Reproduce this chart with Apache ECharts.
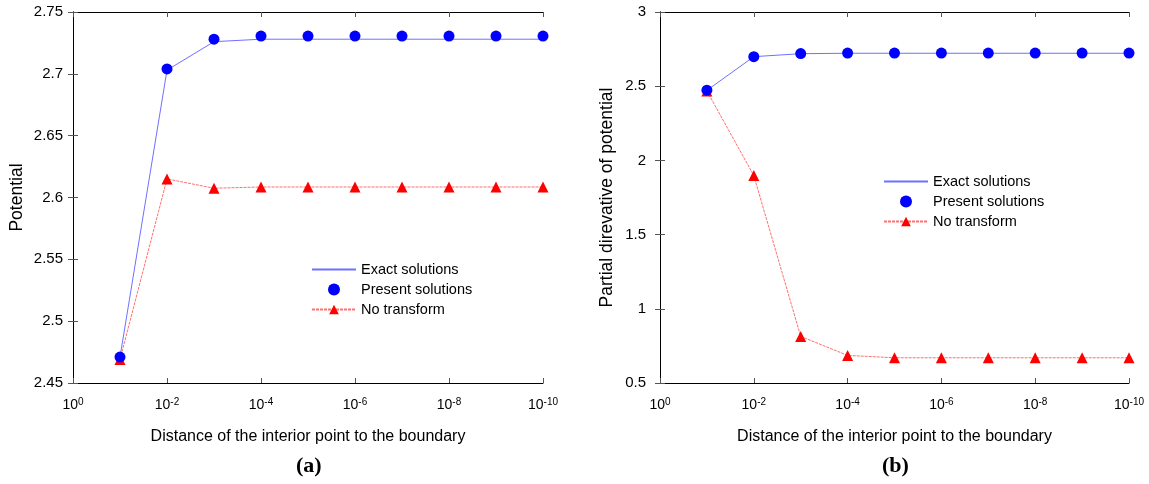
<!DOCTYPE html>
<html>
<head>
<meta charset="utf-8">
<script src="https://cdn.jsdelivr.net/npm/echarts@6/dist/echarts.min.js"></script>
<style>
  html, body { margin: 0; padding: 0; background: #fff; }
  #chart { width: 1149px; height: 484px; }
</style>
</head>
<body>
<div id="chart"></div>
<script>
// exponent n of the distance 10^-n
const exponents = [1, 2, 3, 4, 5, 6, 7, 8, 9, 10]

// (a) potential
const potExact = [2.471, 2.703, 2.726, 2.728, 2.728, 2.728, 2.728, 2.728, 2.728, 2.728]
const potPresent = [2.471, 2.704, 2.728, 2.7305, 2.7305, 2.7305, 2.7305, 2.7305, 2.7305, 2.7305]
const potNoTransform = [2.469, 2.615, 2.6075, 2.6085, 2.6085, 2.6085, 2.6085, 2.6085, 2.6085, 2.6085]

// (b) partial derivative of potential
const derExact = [2.472, 2.699, 2.719, 2.722, 2.722, 2.722, 2.722, 2.722, 2.722, 2.722]
const derPresent = [2.473, 2.699, 2.72, 2.723, 2.723, 2.723, 2.723, 2.723, 2.723, 2.723]
const derNoTransform = [2.468, 1.898, 0.814, 0.686, 0.67, 0.67, 0.67, 0.67, 0.67, 0.67]

const names = ['Exact solutions', 'Present solutions', 'No transform']
const FONT = 'Liberation Sans, Arial, sans-serif'

function pairs(ys) {
  return exponents.map((e, i) => [e, ys[i]])
}

function xAxes(gridIndex) {
  const base = {
    gridIndex: gridIndex,
    type: 'value',
    min: 0,
    max: 10,
    interval: 2,
    splitLine: { show: false },
    axisLine: { lineStyle: { color: '#000', width: 1 } },
    axisTick: { inside: true, length: 5, lineStyle: { color: '#555' } }
  }
  return [
    Object.assign({}, base, {
      position: 'bottom',
      name: 'Distance of the interior point to the boundary',
      nameLocation: 'middle',
      nameGap: 46,
      nameTextStyle: { fontFamily: FONT, fontSize: 16, color: '#000' },
      axisLabel: {
        margin: 14,
        color: '#000',
        formatter: function (v) {
          return '{b|10}{s|' + (v === 0 ? '0' : '-' + v) + '}'
        },
        rich: {
          b: { fontFamily: FONT, fontSize: 14, color: '#000' },
          s: { fontFamily: FONT, fontSize: 10, color: '#000', verticalAlign: 'top', padding: [0, 0, 6, 0] }
        }
      }
    }),
    Object.assign({}, base, { position: 'top', axisLabel: { show: false } })
  ]
}

function yAxes(gridIndex, min, max, interval, name, margin, gap) {
  const base = {
    gridIndex: gridIndex,
    type: 'value',
    min: min,
    max: max,
    interval: interval,
    splitLine: { show: false },
    axisLine: { show: true, lineStyle: { color: '#000', width: 1 } },
    axisTick: { show: true, inside: true, length: 5, lineStyle: { color: '#555' } }
  }
  return [
    Object.assign({}, base, {
      position: 'left',
      name: name,
      nameLocation: 'middle',
      nameGap: gap,
      nameTextStyle: { fontFamily: FONT, fontSize: 17.5, color: '#000' },
      axisLabel: { margin: margin, fontFamily: FONT, fontSize: 15, color: '#000' }
    }),
    Object.assign({}, base, { position: 'right', axisLabel: { show: false } })
  ]
}

function panelSeries(idx, exact, present, noTrans) {
  return [
    {
      name: names[0],
      type: 'line',
      xAxisIndex: idx * 2,
      yAxisIndex: idx * 2,
      data: pairs(exact),
      symbol: 'none',
      lineStyle: { color: '#7070ff', width: 1 },
      itemStyle: { color: '#7070ff' },
      z: 2
    },
    {
      name: names[1],
      type: 'scatter',
      xAxisIndex: idx * 2,
      yAxisIndex: idx * 2,
      data: pairs(present),
      symbol: 'circle',
      symbolSize: 11,
      itemStyle: { color: '#0000ff', opacity: 1 },
      z: 4
    },
    {
      name: names[2],
      type: 'line',
      xAxisIndex: idx * 2,
      yAxisIndex: idx * 2,
      data: pairs(noTrans),
      symbol: 'triangle',
      symbolSize: 11,
      lineStyle: { color: '#ff7070', width: 1, type: [3, 1] },
      itemStyle: { color: '#ff0000' },
      z: 3
    }
  ]
}

function legend(left, top) {
  return {
    orient: 'vertical',
    left: left,
    top: top,
    data: [
      { name: names[0], itemStyle: { opacity: 0 } },
      names[1],
      names[2]
    ],
    itemWidth: 44,
    itemHeight: 12,
    itemGap: 5,
    selectedMode: false,
    textStyle: { fontFamily: FONT, fontSize: 14.5, color: '#000' }
  }
}

const chart = echarts.init(document.getElementById('chart'), null, { renderer: 'canvas' })
chart.setOption({
  animation: false,
  backgroundColor: '#fff',
  grid: [
    { left: 73, right: 606, top: 12, bottom: 101, show: false },
    { left: 660, right: 20, top: 12, bottom: 101, show: false }
  ],
  xAxis: xAxes(0).concat(xAxes(1)),
  yAxis: yAxes(0, 2.45, 2.75, 0.05, 'Potential', 10, 47)
    .concat(yAxes(1, 0.5, 3, 0.5, 'Partial direvative of potential', 14, 44)),
  legend: [legend(306, 257), legend(878, 169)],
  series: panelSeries(0, potExact, potPresent, potNoTransform)
    .concat(panelSeries(1, derExact, derPresent, derNoTransform)),
  graphic: [
    {
      type: 'text',
      left: 296,
      top: 455,
      style: { text: '(a)', font: 'bold 22px "Liberation Serif", "Times New Roman", serif', fill: '#000' }
    },
    {
      type: 'text',
      left: 882,
      top: 455,
      style: { text: '(b)', font: 'bold 22px "Liberation Serif", "Times New Roman", serif', fill: '#000' }
    }
  ]
})
</script>
</body>
</html>
